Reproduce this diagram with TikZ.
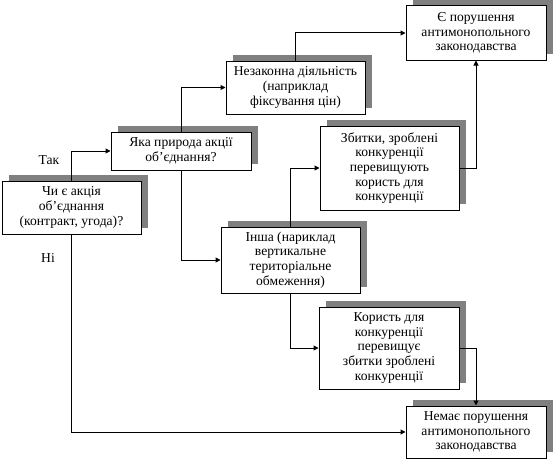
\documentclass[tikz,border=0pt]{standalone}
\usepackage{fontspec}
\setmainfont{Liberation Serif}
\usetikzlibrary{shadows,arrows.meta}
\begin{document}
\begin{tikzpicture}[x=1pt,y=-1pt,
  box/.style={draw=black, line width=1pt, fill=white, inner sep=0pt, align=center,
    font=\fontsize{13.6}{14.6}\selectfont,
    drop shadow={shadow xshift=7pt, shadow yshift=6pt, fill=black!50, opacity=1}},
  conn/.style={line width=1pt, -{Triangle[length=5pt,width=5pt]}},
  lbl/.style={font=\fontsize{13.6}{14.6}\selectfont, inner sep=0pt}]
\useasboundingbox (0,0) rectangle (553,460);
\node[box, minimum width=139pt, minimum height=53pt] (A) at (71.5,207.5)
  {Чи є акція\\об’єднання\\(контракт, угода)?};
\node[box, minimum width=140pt, minimum height=38pt] (B) at (181,151)
  {Яка природа акції\\об’єднання?};
\node[box, minimum width=139pt, minimum height=53pt] (C) at (295.5,87.5)
  {Незаконна діяльність\\(наприклад\\фіксування цін)};
\node[box, minimum width=140pt, minimum height=54pt] (D) at (476,33)
  {Є порушення\\антимонопольного\\законодавства};
\node[box, minimum width=139pt, minimum height=84pt] (E) at (389.5,168)
  {Збитки, зроблені\\конкуренції\\перевищують\\користь для\\конкуренції};
\node[box, minimum width=139pt, minimum height=66pt] (F) at (290.5,260)
  {Інша (нариклад\\вертикальне\\територіальне\\обмеження)};
\node[box, minimum width=140pt, minimum height=82pt] (G) at (389,348)
  {Користь для\\конкуренції\\перевищує\\збитки зроблені\\конкуренції};
\node[box, minimum width=140pt, minimum height=52pt] (H) at (476,432)
  {Немає порушення\\антимонопольного\\законодавства};
\node[lbl] (tak) at (49,160) {Так};
\node[lbl] (ni) at (48,258) {Ні};
\draw[conn] (A.north) |- (B.west);
\draw[conn] (B.north) |- (C.west);
\draw[conn] (C.north) |- (D.west);
\draw[conn] (B.south) |- (F.west);
\draw[conn] (F.north) |- (E.west);
\draw[conn] (E.east) -| (D.south);
\draw[conn] (F.south) |- (G.west);
\draw[conn] (G.east) -| (H.north);
\draw[conn] (A.south) |- (H.west);
\end{tikzpicture}
\end{document}
